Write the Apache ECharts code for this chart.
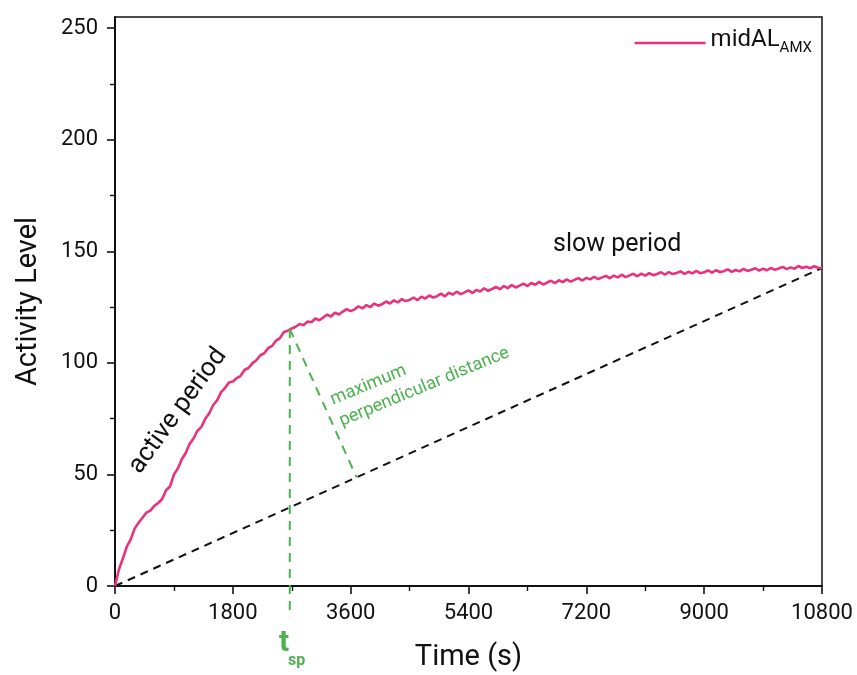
<!DOCTYPE html>
<html>
<head>
<meta charset="utf-8">
<script src="https://cdn.jsdelivr.net/npm/echarts@6/dist/echarts.min.js"></script>
<style>
  html, body { margin: 0; padding: 0; background: #fff; }
  #chart { width: 857px; height: 675px; }
</style>
</head>
<body>
<div id="chart"></div>
<script>
// Recording: mid activity level (AMX), sampled once a minute over three hours
const sampleStep = 60; // seconds between samples
const activityLevel = [
  0, 7.4, 12.3, 17.6, 20.9, 25.7, 28.4, 30.6, 32.9, 33.8,
  35.9, 37.2, 39.0, 42.9, 44.6, 49.9, 52.7, 56.8, 59.6, 63.7,
  66.1, 69.6, 71.3, 75.0, 77.4, 81.1, 83.2, 86.9, 88.7, 91.2,
  91.6, 93.2, 94.2, 96.9, 97.7, 99.9, 101.2, 103.4, 104.3, 106.6,
  107.6, 110.0, 111.1, 113.8, 114.4, 115.4, 116.2, 117.4, 116.9, 118.5,
  118.2, 119.9, 119.1, 120.3, 121.6, 120.8, 122.5, 121.7, 123.0, 124.1,
  123.2, 124.0, 125.3, 124.4, 125.9, 125.0, 126.6, 125.6, 126.3, 127.5,
  126.6, 128.0, 127.1, 128.6, 127.7, 128.2, 129.3, 128.1, 129.7, 128.8,
  130.2, 129.3, 129.9, 131.0, 129.8, 131.4, 130.6, 131.9, 130.8, 131.6,
  132.5, 131.3, 132.7, 132.0, 133.4, 132.3, 133.1, 134.0, 133.0, 134.4,
  133.5, 134.9, 133.8, 134.6, 135.5, 134.4, 135.8, 135.0, 136.3, 135.1,
  136.0, 136.8, 135.7, 137.0, 136.2, 137.4, 136.4, 137.2, 138.0, 136.9,
  138.1, 137.4, 138.6, 137.5, 138.3, 139.0, 137.9, 139.1, 138.3, 139.5,
  138.4, 139.2, 139.9, 138.8, 140.0, 139.1, 140.2, 139.3, 139.8, 140.6,
  139.5, 140.7, 139.8, 140.3, 141.0, 139.9, 140.8, 140.1, 141.2, 140.2,
  140.6, 141.4, 140.4, 141.5, 140.7, 141.1, 141.9, 140.8, 141.6, 141.0,
  142.1, 141.2, 141.7, 142.4, 141.3, 142.2, 141.5, 142.6, 141.7, 142.3,
  143.0, 142.0, 142.8, 142.2, 143.4, 142.5, 143.1, 142.4, 143.3, 142.6,
  142.5
];

// Switch point between the active and the slow period
const tspTime = 2670;
const tspLevel = 115.2;
const tspLineBottom = -14; // how far the marker runs below the time axis

// Axis ticks
const timeTicks = [0, 1800, 3600, 5400, 7200, 9000, 10800];
const levelTicks = [0, 50, 100, 150, 200, 250];
const levelMinorTicks = [25, 75, 125, 175, 225];

const PINK = '#ea317c';
const GREEN = '#4cb14f';
const INK = '#111111';
const FONT = 'Roboto, "Noto Sans", sans-serif';

const curve = activityLevel.map((v, i) => [i * sampleStep, v]);
const lastPoint = curve[curve.length - 1];
const chord = [[0, 0], lastPoint];

const chart = echarts.init(document.getElementById('chart'), null, { renderer: 'canvas' });

const option = {
  animation: false,
  backgroundColor: '#fff',
  grid: {
    left: 115, right: 35, top: 17, bottom: 89,
    outerBoundsMode: 'none', containLabel: false,
    show: true, borderColor: INK, borderWidth: 1.5, backgroundColor: 'transparent'
  },
  legend: {
    right: 45, top: 28, padding: 0,
    icon: 'rect', itemWidth: 71, itemHeight: 2.5,
    data: [{ name: 'midAL', itemStyle: { color: PINK } }],
    formatter: () => '{a|midAL}{b|AMX}',
    textStyle: {
      rich: {
        a: { fontFamily: FONT, fontSize: 24, color: INK, lineHeight: 26, padding: [0, 0, 4, 0], verticalAlign: 'bottom' },
        b: { fontFamily: FONT, fontSize: 15, color: INK, lineHeight: 14, verticalAlign: 'bottom' }
      }
    }
  },
  xAxis: {
    type: 'value', min: 0, max: 10800, interval: 1800,
    name: 'Time (s)', nameLocation: 'middle', nameGap: 57,
    nameTextStyle: { fontFamily: FONT, fontSize: 29, color: INK },
    axisLine: { show: true, onZero: false, lineStyle: { color: INK, width: 2 } },
    axisTick: { show: true, length: 8, lineStyle: { color: INK, width: 1.6 } },
    minorTick: { show: true, splitNumber: 2, length: 5, lineStyle: { color: INK, width: 1.4 } },
    splitLine: { show: false },
    axisLabel: {
      margin: 16, fontFamily: FONT, fontSize: 22, color: INK,
      customValues: timeTicks, formatter: v => String(v)
    }
  },
  yAxis: [
    {
      type: 'value', min: 0, max: 255,
      name: 'Activity Level', nameLocation: 'middle', nameGap: 72,
      nameTextStyle: { fontFamily: FONT, fontSize: 29, color: INK },
      axisLine: { show: true, onZero: false, lineStyle: { color: INK, width: 2 } },
      axisTick: { show: true, length: 8, customValues: levelTicks, lineStyle: { color: INK, width: 1.6 } },
      splitLine: { show: false },
      axisLabel: {
        margin: 17, fontFamily: FONT, fontSize: 22, color: INK,
        customValues: levelTicks, formatter: v => String(v)
      }
    },
    {
      type: 'value', min: 0, max: 255, position: 'left', offset: 0,
      axisLine: { show: false },
      axisTick: { show: true, length: 5, customValues: levelMinorTicks, lineStyle: { color: INK, width: 1.4 } },
      axisLabel: { show: false },
      splitLine: { show: false }
    }
  ],
  series: [
    {
      name: 'chord', type: 'line', data: chord, symbol: 'none', silent: true,
      lineStyle: { color: INK, width: 2, type: [8, 6] }, z: 2
    },
    {
      name: 'midAL', type: 'line', data: curve, symbol: 'none',
      lineStyle: { color: PINK, width: 2.6 }, itemStyle: { color: PINK }, z: 3
    },
    {
      name: 'tsp', type: 'line', clip: false, symbol: 'none', silent: true,
      data: [[tspTime, tspLevel], [tspTime, tspLineBottom]],
      lineStyle: { color: GREEN, width: 2, type: [9, 7] }, z: 4
    }
  ],
  graphic: [
    {
      type: 'text', x: 178, y: 411, rotation: 54 * Math.PI / 180,
      style: { text: 'active period', font: '26px ' + FONT, fill: INK, align: 'center', verticalAlign: 'middle' }
    },
    {
      type: 'text', x: 553, y: 245,
      style: { text: 'slow period', font: '25px ' + FONT, fill: INK, align: 'left', verticalAlign: 'middle' }
    },
    {
      type: 'text', x: 327, y: 390, rotation: 22.5 * Math.PI / 180,
      style: { text: 'maximum\nperpendicular distance', font: '18px ' + FONT, lineHeight: 23, fill: GREEN, align: 'left', verticalAlign: 'top' }
    },
    {
      type: 'text', x: 279, y: 643,
      style: { text: 't', font: 'bold 30px ' + FONT, fill: GREEN, align: 'left', verticalAlign: 'middle' }
    },
    {
      type: 'text', x: 288, y: 661,
      style: { text: 'sp', font: 'bold 16px ' + FONT, fill: GREEN, align: 'left', verticalAlign: 'middle' }
    }
  ]
};

chart.setOption(option);

// Perpendicular drop from the switch point onto the chord, measured on screen
const a = chart.convertToPixel({ gridIndex: 0 }, chord[0]);
const b = chart.convertToPixel({ gridIndex: 0 }, chord[1]);
const p = chart.convertToPixel({ gridIndex: 0 }, [tspTime, tspLevel]);
const dx = b[0] - a[0], dy = b[1] - a[1];
const len2 = dx * dx + dy * dy;
const t = ((p[0] - a[0]) * dx + (p[1] - a[1]) * dy) / len2;
const foot = chart.convertFromPixel({ gridIndex: 0 }, [a[0] + t * dx, a[1] + t * dy]);

chart.setOption({
  series: [
    {}, {}, {},
    {
      name: 'perpendicular', type: 'line', symbol: 'none', silent: true, clip: false,
      data: [[tspTime, tspLevel], foot],
      lineStyle: { color: GREEN, width: 2, type: [9, 7] }, z: 4
    }
  ]
});
</script>
</body>
</html>
